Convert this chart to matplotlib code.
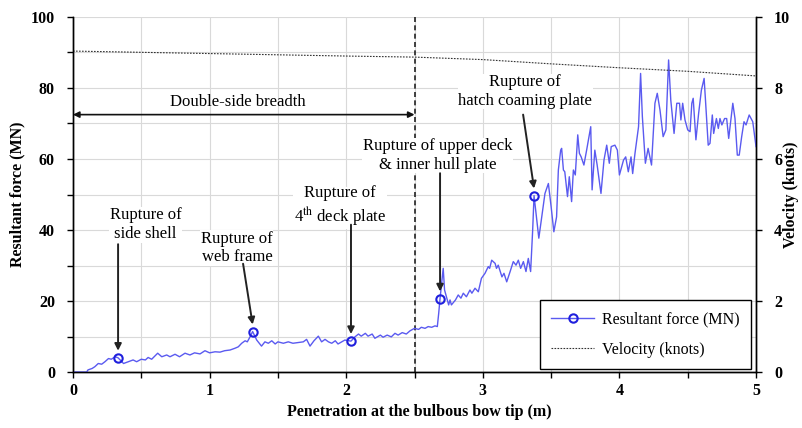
import matplotlib
matplotlib.use('Agg')
import matplotlib.pyplot as plt
import numpy as np

plt.rcParams['font.family'] = ['Liberation Serif', 'DejaVu Serif']
plt.rcParams['mathtext.fontset'] = 'stix'

# resultant force at the bulbous bow tip (MN) vs penetration (m)
pen = [0, 0.10, 0.11, 0.14, 0.16, 0.185, 0.21, 0.234, 0.26, 0.28, 0.31, 0.33,
       0.37, 0.405, 0.44, 0.466, 0.50, 0.53, 0.55, 0.576, 0.62, 0.65, 0.686, 0.71,
       0.747, 0.78, 0.82, 0.856, 0.89, 0.93, 0.966, 1.00, 1.04, 1.076, 1.11, 1.15,
       1.186, 1.21, 1.235, 1.26, 1.276, 1.296, 1.315, 1.345, 1.38, 1.405, 1.43,
       1.455, 1.48, 1.50, 1.54, 1.576, 1.61, 1.65, 1.686, 1.71, 1.735, 1.764,
       1.796, 1.82, 1.845, 1.87, 1.894, 1.92, 1.94, 1.967, 1.99, 2.035, 2.064,
       2.09, 2.11, 2.14, 2.16, 2.19, 2.21, 2.25, 2.27, 2.30, 2.33, 2.357, 2.38,
       2.41, 2.44, 2.467, 2.50, 2.53, 2.55, 2.577, 2.60, 2.626, 2.65, 2.667,
       2.677, 2.687, 2.71, 2.72, 2.75, 2.76, 2.77, 2.80, 2.82, 2.84, 2.857, 2.88,
       2.906, 2.92, 2.943, 2.967, 2.99, 3.016, 3.04, 3.05, 3.065, 3.09, 3.10,
       3.113, 3.14, 3.155, 3.175, 3.20, 3.223, 3.243, 3.26, 3.277, 3.297, 3.316,
       3.333, 3.35, 3.365, 3.375, 3.41, 3.455, 3.48, 3.50, 3.52, 3.54, 3.553,
       3.57, 3.577, 3.59, 3.60, 3.62, 3.633, 3.65, 3.663, 3.677, 3.695, 3.707,
       3.72, 3.74, 3.76, 3.79, 3.80, 3.82, 3.837, 3.865, 3.887, 3.907, 3.926,
       3.94, 3.967, 3.985, 4.00, 4.03, 4.046, 4.065, 4.085, 4.097, 4.114, 4.14,
       4.155, 4.168, 4.19, 4.21, 4.235, 4.26, 4.277, 4.297, 4.32, 4.34, 4.36,
       4.376, 4.40, 4.42, 4.44, 4.45, 4.463, 4.48, 4.50, 4.517, 4.53, 4.54, 4.56,
       4.58, 4.60, 4.62, 4.63, 4.65, 4.663, 4.68, 4.69, 4.71, 4.724, 4.736, 4.75,
       4.77, 4.785, 4.80, 4.83, 4.846, 4.863, 4.877, 4.895, 4.912, 4.927, 4.95,
       4.976, 5.0]
force = [0, 0, 0.6, 1.0, 1.5, 2.4, 2.2, 2.9, 3.8, 3.6, 4.3, 4.0,
         2.4, 2.9, 3.4, 2.9, 3.6, 3.4, 4.1, 3.6, 5.3, 4.3, 4.8, 4.3,
         5.0, 4.3, 5.3, 4.8, 5.4, 5.1, 6.0, 5.4, 5.7, 5.6, 6.0, 6.2,
         6.7, 7.1, 8.1, 8.8, 8.5, 9.9, 11.4, 9.0, 7.3, 8.5, 8.1,
         8.8, 7.9, 8.5, 8.1, 8.5, 8.1, 8.3, 8.5, 9.2, 7.3, 8.8,
         10.1, 8.5, 9.2, 8.5, 8.1, 8.8, 7.9, 8.5, 9.0, 8.7, 9.9,
         10.7, 10.1, 10.9, 10.1, 10.7, 9.5, 10.4, 9.8, 10.4, 9.9, 10.9, 10.4,
         11.1, 10.7, 11.6, 12.3, 12.0, 12.6, 12.3, 12.8, 12.6, 13.0, 12.8,
         16.5, 20.7, 29.2, 23.1, 18.9, 20.3, 18.9, 20.3, 21.7, 20.8, 22.2, 21.2,
         23.1, 22.2, 23.6, 22.6, 26.4, 27.8, 29.7, 29.2, 31.5, 30.6, 29.2,
         30.1, 26.8, 27.8, 25.4, 28.3, 31.1, 30.1, 31.5, 29.2, 31.1, 28.3,
         32.0, 28.3, 40.0, 49.7, 37.7, 50.3, 53.1, 46.6, 39.5, 43.7, 56.9,
         62.5, 63.0, 56.9, 56.4, 49.4, 55.0, 48.0, 56.9, 55.5, 66.8, 61.6,
         60.6, 58.3, 62.5, 69.1, 51.3, 62.5, 58.3, 50.3, 59.7, 63.9, 58.8,
         63.5, 63.9, 62.5, 55.5, 59.7, 60.6, 56.4, 60.6, 55.9, 61.6, 69.1,
         84.1, 71.9, 58.8, 63.0, 58.3, 75.7, 78.5, 73.8, 66.3, 68.2, 87.9,
         76.6, 67.2, 75.7, 75.7, 71.0, 75.7, 71.0, 68.2, 67.7, 75.7, 77.1, 65.4,
         72.9, 79.4, 82.7, 76.6, 63.9, 64.4, 72.4, 67.2, 71.4, 68.6, 71.4, 69.6,
         71.4, 71.4, 65.8, 75.7, 71.4, 61.1, 61.1, 66.3, 70.5, 69.6, 72.4,
         70.5, 63.5]

# ship velocity (knots)
vel_pen = [0, 1, 2, 2.5, 3, 3.5, 4, 4.5, 5]
velocity = [9.04, 8.97, 8.90, 8.87, 8.80, 8.68, 8.57, 8.47, 8.34]

# rupture events: label, penetration at the marker, text position
rupture_pen = [0.33, 1.315, 2.035, 2.687, 3.375]
rupture_text = ['Rupture of\nside shell',
                'Rupture of\nweb frame',
                'Rupture of\n4$^{\\mathrm{th}}$ deck plate',
                'Rupture of upper deck\n& inner hull plate',
                'Rupture of\nhatch coaming plate']
text_xy = [(0.53, 41.5), (1.20, 35.0), (1.955, 46.5), (2.67, 61.0), (3.31, 79.0)]
arrow_start = [(0.33, 36.0), (1.245, 30.5), (2.035, 41.5), (2.687, 56.0), (3.295, 72.5)]

pen = np.array(pen)
force = np.array(force)
mark_idx = [int(np.argmin(np.abs(pen - p))) for p in rupture_pen]

fig = plt.figure(figsize=(8.03, 4.28), dpi=100)
ax = fig.add_axes([0.0909, 0.1308, 0.8506, 0.8295])
ax2 = ax.twinx()

ax.set_xlim(0, 5)
ax.set_ylim(0, 100)
ax2.set_ylim(0, 10)

ax.set_xticks(np.arange(0, 5.01, 0.5))
ax.set_xticklabels([str(int(v)) if v == int(v) else '' for v in np.arange(0, 5.01, 0.5)])
ax.set_yticks(np.arange(0, 101, 10))
ax.set_yticklabels([str(v) if v % 20 == 0 else '' for v in range(0, 101, 10)])
ax2.set_yticks(np.arange(0, 11, 2))
ax.grid(True, color='#d9d9d9', linewidth=0.8)
ax.set_axisbelow(True)

for a in (ax, ax2):
    a.spines['top'].set_visible(False)
    for s in ('left', 'right', 'bottom'):
        a.spines[s].set_linewidth(1.0)
ax.tick_params(axis='both', direction='out', length=4, width=1.0, labelsize=11.5)
ax.tick_params(axis='y', pad=9)
ax.tick_params(axis='x', pad=4)
ax2.tick_params(axis='y', direction='out', length=4, width=1.0, labelsize=11.5, pad=9)
for lab in ax.get_xticklabels() + ax.get_yticklabels() + ax2.get_yticklabels():
    lab.set_fontweight('bold')

ax.set_xlabel('Penetration at the bulbous bow tip (m)', fontsize=11.5, fontweight='bold')
ax.set_ylabel('Resultant force (MN)', fontsize=11.5, fontweight='bold')
ax2.set_ylabel('Velocity (knots)', fontsize=11.5, fontweight='bold')
ax.xaxis.set_label_coords(0.507, -0.09)
ax.yaxis.set_label_coords(-0.070, 0.5)
ax2.yaxis.set_label_coords(1.039, 0.5)

fline, = ax.plot(pen, force, color='#5a5af0', linewidth=1.0,
                 marker='o', markevery=mark_idx, markersize=6,
                 markerfacecolor='none', markeredgecolor='#1f1fdd',
                 markeredgewidth=1.5, label='Resultant force (MN)', zorder=3)
vline, = ax2.plot(vel_pen, velocity, color='#333333', linewidth=0.8,
                  linestyle=(0, (1.5, 1.2)), label='Velocity (knots)')

# double-side breadth marker
ax.axvline(2.5, color='#222222', linestyle=(0, (3, 2)), linewidth=1.2, zorder=2)
ax.annotate('', xy=(0.0, 72.5), xytext=(2.5, 72.5),
            arrowprops=dict(arrowstyle='<|-|>', color='#111111', lw=1.2,
                            mutation_scale=9, shrinkA=0, shrinkB=0))
ax.text(1.205, 76.0, 'Double-side breadth', ha='center', va='center', fontsize=12)

for i, txt in enumerate(rupture_text):
    ax.text(text_xy[i][0], text_xy[i][1], txt, ha='center', va='center',
            fontsize=12, linespacing=1.2, zorder=4,
            bbox=dict(facecolor='white', edgecolor='none', pad=0.5))
    px = rupture_pen[i]
    py = force[mark_idx[i]]
    ax.annotate('', xy=(px, py + 2.0), xytext=arrow_start[i],
                arrowprops=dict(arrowstyle='-|>', color='#222222', lw=1.4,
                                mutation_scale=10, shrinkA=0, shrinkB=0), zorder=4)

leg = ax.legend(handles=[fline, vline], loc='lower right',
                bbox_to_anchor=(0.993, 0.008), borderaxespad=0, fontsize=11.5,
                frameon=True, fancybox=False, edgecolor='black', framealpha=1,
                handlelength=2.7, handletextpad=0.5, borderpad=0.7, labelspacing=0.9)
leg.get_frame().set_linewidth(1.0)
leg.set_zorder(5)

fig.savefig('out.png', dpi=100)
